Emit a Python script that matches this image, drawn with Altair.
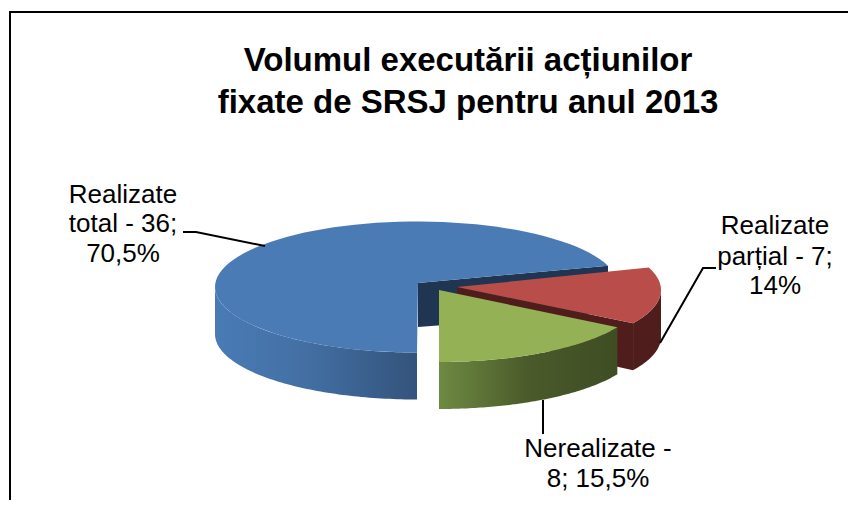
import numpy as np
import pandas as pd
import altair as alt

# --- values
categories = ["Realizate total", "Nerealizate", "Realizate parțial"]
actions = [36, 8, 7]
percents = ["70,5%", "15,5%", "14%"]
title_lines = ["Volumul executării acțiunilor", "fixate de SRSJ pentru anul 2013"]
label_lines = [
    ["Realizate", "total - 36;", "70,5%"],
    ["Nerealizate -", "8; 15,5%"],
    ["Realizate", "parțial - 7;", "14%"],
]

# --- geometry of the tilted pie as drawn (pixel space of the picture)
W, H = 840, 492
RX, RY, DEPTH = 202, 65.5, 47
slice_geom = {
    "blue":  dict(c=(417, 287), tip=(418, 283), a0=19, a1=270),
    "green": dict(c=(439, 296.5), tip=(439, 290), a0=270, a1=332),
    "red":   dict(c=(459, 290), tip=(457, 287), a0=329.5, a1=380),
}
label_pos = [[(123, 195), (123, 224), (123, 254)],
             [(598, 449), (598, 479)],
             [(775, 226), (775, 257), (775, 286)]]
title_pos = [(468, 61), (468, 103)]
leaders = [[(183, 232), (196, 232), (265, 246)],
           [(543, 400), (543, 434)],
           [(660, 343), (703, 268), (716, 268)]]

xs = alt.Scale(domain=[8, 8 + W], nice=False, zero=False)
ys = alt.Scale(domain=[8 + H, 8], nice=False, zero=False)
X = lambda: alt.X("x:Q", scale=xs, axis=None)
Y = lambda: alt.Y("y:Q", scale=ys, axis=None)


def arc(g, a0, a1, dy=0):
    t = np.radians(np.linspace(a0, a1, 80))
    return list(zip(g["c"][0] + RX * np.cos(t), g["c"][1] - RY * np.sin(t) + dy))


def poly(pts, fill):
    df = pd.DataFrame(pts, columns=["x", "y"])
    df["o"] = range(len(df))
    return alt.Chart(df).mark_line(fill=fill, stroke="transparent", strokeWidth=0).encode(
        x=X(), y=Y(), order="o:Q")


def grad(*stops):
    return alt.LinearGradient(
        gradient="linear", x1=0, x2=1, y1=0, y2=0,
        stops=[alt.GradientStop(color=c, offset=o) for o, c in stops])


def wedge(g):
    return [g["tip"]] + arc(g, g["a0"], g["a1"]) + [g["tip"]]


def wall(g, a0, a1):
    return arc(g, a0, a1) + arc(g, a1, a0, DEPTH)


def inner(g, a, d0=44):
    t = np.radians(a)
    px, py = g["c"][0] + RX * np.cos(t), g["c"][1] - RY * np.sin(t)
    return [g["tip"], (px, py), (px, py + DEPTH), (g["tip"][0], g["tip"][1] + d0)]


B, G, R = slice_geom["blue"], slice_geom["green"], slice_geom["red"]
layers = [
    poly(inner(B, B["a0"]), "#1F3552"),
    poly(wall(B, 180, 270), grad((0, "#4A7BB6"), (0.45, "#436FA3"), (1, "#33547C"))),
    poly(wedge(B), "#4A7BB5"),
    poly(inner(R, R["a0"]), "#4F1E1C"),
    poly(wall(R, R["a0"], 360), "#4F1E1C"),
    poly(wedge(R), "#B84D4A"),
    poly(wall(G, 270, G["a1"]), grad((0, "#6E8A42"), (0.5, "#4A5A2A"), (1, "#3F4D23"))),
    poly(wedge(G), "#94B255"),
]

for seg in leaders:
    d = pd.DataFrame(seg, columns=["x", "y"])
    d["o"] = range(len(d))
    layers.append(alt.Chart(d).mark_line(color="#000000", strokeWidth=2).encode(x=X(), y=Y(), order="o:Q"))

# chart border (only the left and the top edges fall inside the picture)
for seg in [[(10, 12), (10, 500)], [(9, 12), (848, 12)]]:
    d = pd.DataFrame(seg, columns=["x", "y"])
    layers.append(alt.Chart(d).mark_line(color="#000000", strokeWidth=2).encode(x=X(), y=Y()))

txt = []
for lines, pos in zip(label_lines, label_pos):
    for s, (x, y) in zip(lines, pos):
        txt.append({"t": s, "x": x, "y": y})
layers.append(alt.Chart(pd.DataFrame(txt)).mark_text(
    font="Liberation Sans", fontSize=26, color="#000000", align="center", baseline="middle"
).encode(x=X(), y=Y(), text="t:N"))

ttl = [{"t": s, "x": x, "y": y} for s, (x, y) in zip(title_lines, title_pos)]
layers.append(alt.Chart(pd.DataFrame(ttl)).mark_text(
    font="Liberation Sans", fontSize=33, fontWeight="bold", color="#000000", align="center", baseline="middle"
).encode(x=X(), y=Y(), text="t:N"))

chart = alt.layer(*layers).properties(
    width=W, height=H, padding=0, background="white", autosize=alt.AutoSizeParams(type="none")
).configure_view(stroke=None)

chart.save("out.html", embed_options={"renderer": "svg", "actions": False})
